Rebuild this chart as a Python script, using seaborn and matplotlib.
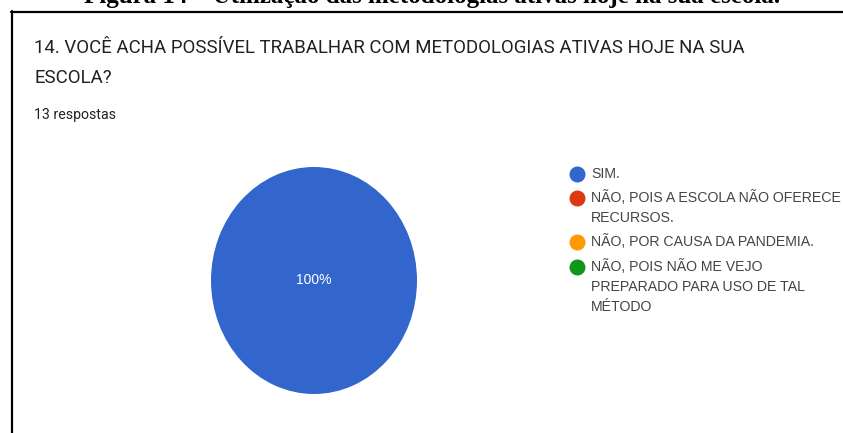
import matplotlib
matplotlib.use("Agg")
import matplotlib.pyplot as plt
from matplotlib.lines import Line2D
import seaborn as sns

# ---- data ----
categories = [
    "SIM.",
    "NÃO, POIS A ESCOLA NÃO OFERECE\nRECURSOS.",
    "NÃO, POR CAUSA DA PANDEMIA.",
    "NÃO, POIS NÃO ME VEJO\nPREPARADO PARA USO DE TAL\nMÉTODO",
]
counts = [13, 0, 0, 0]
colors = ["#3366cc", "#dc3912", "#ff9900", "#109618"]
title_lines = ["14. VOCÊ ACHA POSSÍVEL TRABALHAR COM METODOLOGIAS ATIVAS HOJE NA SUA",
               "ESCOLA?"]
subtitle_text = "13 respostas"
caption_text = "Figura 14 – Utilização das metodologias ativas hoje na sua escola."

sns.set_theme(style="white")
plt.rcParams["font.family"] = ["Roboto", "DejaVu Sans"]

W, H = 843, 433
fig = plt.figure(figsize=(W / 100, H / 100), dpi=100)
ax = fig.add_axes([0, 0, 1, 1])

def fmt(p):
    return f"{p:.0f}%" if p > 0.5 else ""

wedges, texts, autotexts = ax.pie(
    counts, colors=sns.color_palette(colors), startangle=90, counterclock=False,
    autopct=fmt, pctdistance=0.0, wedgeprops=dict(linewidth=0),
    textprops=dict(color="white", fontsize=10, family=["Liberation Sans"]),
)
ax.set_aspect("auto")
# map unit circle onto an ellipse centred at pixel (314, 280.5)
cx, cy = 314, H - 280.5
rx, ry = 103, 113.5
ax.set_xlim(-cx / rx, (W - cx) / rx)
ax.set_ylim(-cy / ry, (H - cy) / ry)
ax.axis("off")

def fx(px):
    return px / W
def fy(py):
    return 1 - py / H

# caption (cut at the top, as in the reference)
fig.text(fx(432), fy(3.5), caption_text, ha="center", va="baseline",
         family=["Liberation Serif"], weight="bold", fontsize=18, color="black")

# frame lines
fig.add_artist(Line2D([fx(11.5), fx(11.5)], [fy(11), 0], color="black", lw=1.6,
                      transform=fig.transFigure))
fig.add_artist(Line2D([fx(11), 1], [fy(11.5), fy(11.5)], color="black", lw=1.6,
                      transform=fig.transFigure))

fig.text(fx(34), fy(53), title_lines[0], ha="left", va="baseline", fontsize=13.4,
         color="#212121")
fig.text(fx(34), fy(83), title_lines[1], ha="left", va="baseline", fontsize=13.4,
         color="#212121")
fig.text(fx(34), fy(119), subtitle_text, ha="left", va="baseline", fontsize=10.2,
         color="#212121")

# legend (marker aligned with the first line of each entry)
entry_tops = [174, 198, 242, 267]
for lab, col, yc in zip(categories, colors, entry_tops):
    fig.add_artist(Line2D([fx(577)], [fy(yc)], marker="o", linestyle="",
                          markersize=10.5, markerfacecolor=col, markeredgecolor=col,
                          transform=fig.transFigure))
    fig.text(fx(591), fy(yc - 7.5), lab, ha="left", va="top", fontsize=10.2,
             family=["Liberation Sans"], color="#444444", linespacing=1.52,
             transform=fig.transFigure)

fig.savefig("out.png", dpi=100)
